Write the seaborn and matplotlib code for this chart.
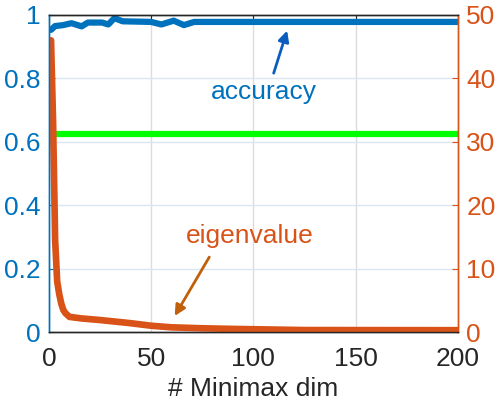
import numpy as np
import pandas as pd
import seaborn as sns
import matplotlib.pyplot as plt

# accuracy vs number of minimax dimensions (left axis)
acc_dim = [1, 3, 7, 11, 16, 19, 26, 29, 32, 36, 50, 55, 61, 66, 71, 200]
acc_val = [0.953, 0.965, 0.968, 0.974, 0.964, 0.976, 0.976, 0.970, 0.990, 0.980,
           0.978, 0.970, 0.982, 0.968, 0.978, 0.978]

# eigenvalue vs number of minimax dimensions (right axis)
eig_dim = [1, 2, 3, 4, 5, 6, 7, 8, 10, 16, 25, 40, 50, 60, 75, 90, 125, 200]
eig_val = [46.0, 33.0, 14.5, 8.0, 6.0, 4.5, 3.5, 3.0, 2.4, 2.15, 1.9, 1.4, 1.0,
           0.75, 0.6, 0.5, 0.32, 0.3]

# chance / baseline level (left axis)
base_dim = [0, 200]
base_acc = [0.625, 0.625]

xticks = [0, 50, 100, 150, 200]
left_ticks = [0, 0.2, 0.4, 0.6, 0.8, 1]
left_labels = ['0', '0.2', '0.4', '0.6', '0.8', '1']
right_ticks = [0, 10, 20, 30, 40, 50]

blue = '#0072BD'
orange = '#D95319'
green = '#00FF00'

sns.set_style('white')
plt.rcParams['font.family'] = ['Liberation Sans', 'DejaVu Sans']

fig = plt.figure(figsize=(5.02, 4.04), dpi=100)
ax = fig.add_axes([0.0976, 0.178, 0.8144, 0.785])
ax2 = ax.twinx()

acc_df = pd.DataFrame({'dim': acc_dim, 'acc': acc_val})
eig_df = pd.DataFrame({'dim': eig_dim, 'eig': eig_val})
base_df = pd.DataFrame({'dim': base_dim, 'acc': base_acc})

sns.lineplot(data=acc_df, x='dim', y='acc', ax=ax, color=blue, linewidth=4.5)
sns.lineplot(data=base_df, x='dim', y='acc', ax=ax, color=green, linewidth=4.5)
sns.lineplot(data=eig_df, x='dim', y='eig', ax=ax2, color=orange, linewidth=4.8)

ax.set_xlim(0, 200)
ax.set_ylim(0, 1)
ax2.set_ylim(0, 50)
ax.set_xticks(xticks)
ax.set_yticks(left_ticks)
ax.set_yticklabels(left_labels)
ax2.set_yticks(right_ticks)

# grid
for xv in xticks[1:-1]:
    ax.axvline(xv, color='#dcdcdc', lw=1, zorder=0)
for yv in left_ticks[1:-1]:
    ax.axhline(yv, color='#dbe6f0', lw=1, zorder=0)

ax.set_xlabel('# Minimax dim', fontsize=19, color='#262626', labelpad=4)
ax.set_ylabel('')
ax2.set_ylabel('')

ax.tick_params(axis='x', direction='in', length=4, labelsize=19, colors='#262626', pad=11, top=True)
ax.tick_params(axis='y', direction='in', length=4, labelsize=19, colors=blue, pad=6)
ax2.tick_params(axis='y', direction='in', length=4, labelsize=19, colors=orange, pad=6)

for a in (ax, ax2):
    a.spines['top'].set_color('#262626')
    a.spines['bottom'].set_color('#262626')
    for s in a.spines.values():
        s.set_linewidth(1)
ax.spines['left'].set_color(blue)
ax2.spines['left'].set_color(blue)
ax.spines['right'].set_color(orange)
ax2.spines['right'].set_color(orange)

ax.text(79.1, 0.734, 'accuracy', color=blue, fontsize=19, ha='left', va='baseline')
ax.annotate('', xy=(116.9, 0.959), xytext=(109.5, 0.808),
            arrowprops=dict(arrowstyle='-|>', color='#0b5cbf', lw=2, mutation_scale=16))

ax2.text(67.0, 14.0, 'eigenvalue', color=orange, fontsize=19, ha='left', va='baseline')
ax2.annotate('', xy=(60.8, 2.16), xytext=(79.1, 12.2),
             arrowprops=dict(arrowstyle='-|>', color='#c0600a', lw=2, mutation_scale=16))

fig.savefig('out.png', dpi=100)
